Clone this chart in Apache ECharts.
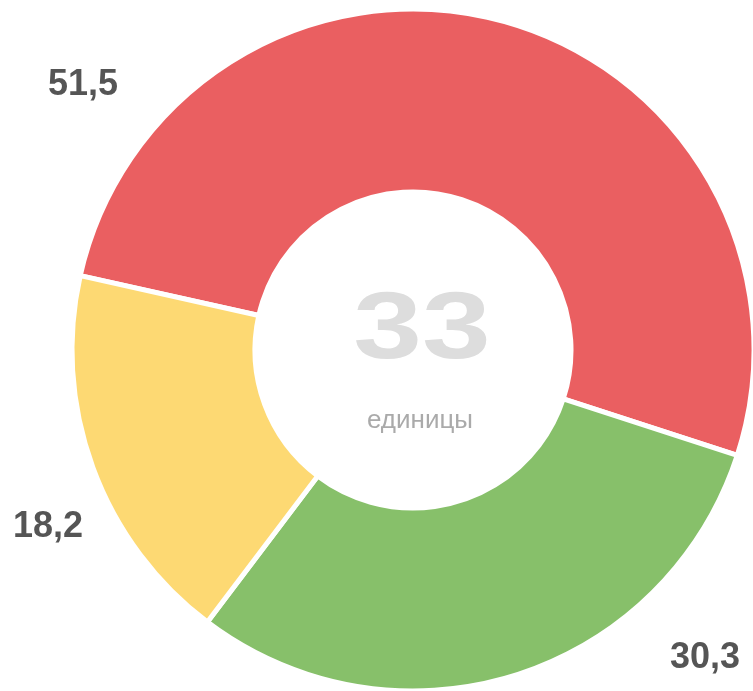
<!DOCTYPE html>
<html>
<head>
<meta charset="utf-8">
<script src="https://cdn.jsdelivr.net/npm/echarts@6/dist/echarts.min.js"></script>
<style>html,body{margin:0;padding:0;background:#fff}#c{width:753px;height:691px}</style>
</head>
<body>
<div id="c"></div>
<script>
var categories = ['Красный', 'Зелёный', 'Жёлтый'];
var values = [51.5, 30.3, 18.2];
var colors = ['#EA5F61', '#87C06A', '#FDD973'];
var centerValue = '33';
var centerUnit = 'единицы';

var labelPos = [[83, 85], [705, 658], [48, 527]];

var chart = echarts.init(document.getElementById('c'), null, {renderer: 'canvas'});
var data = categories.map(function (c, i) {
  return { name: c, value: values[i], itemStyle: { color: colors[i] } };
});
chart.setOption({
  animation: false,
  backgroundColor: '#ffffff',
  graphic: [
    { type: 'text', z: 10, x: 422, y: 332, scaleX: 1.3,
      style: { text: centerValue, x: 0, y: 0, align: 'center', verticalAlign: 'middle',
        fill: '#DDDDDD', font: 'bold 95px "Liberation Sans", Arial, sans-serif' } },
    { type: 'text', z: 10, x: 420, y: 421,
      style: { text: centerUnit, x: 0, y: 0, align: 'center', verticalAlign: 'middle',
        fill: '#AAAAAA', font: '26px "Liberation Sans", Arial, sans-serif' } }
  ],
  series: [{
    type: 'pie',
    center: [413, 350],
    radius: [158, 341],
    startAngle: 167.4,
    clockwise: true,
    avoidLabelOverlap: false,
    itemStyle: { borderColor: '#ffffff', borderWidth: 5 },
    label: {
      show: true,
      position: 'outside',
      formatter: function (p) { return String(p.value).replace('.', ','); },
      color: '#555555',
      fontSize: 36,
      fontWeight: 'bold',
      fontFamily: '"Liberation Sans", Arial, sans-serif'
    },
    labelLine: { show: false },
    labelLayout: function (p) {
      var pos = labelPos[p.dataIndex];
      return { x: pos[0], y: pos[1], align: 'center', verticalAlign: 'middle' };
    },
    emphasis: { disabled: true },
    data: data
  }]
});
</script>
</body>
</html>
